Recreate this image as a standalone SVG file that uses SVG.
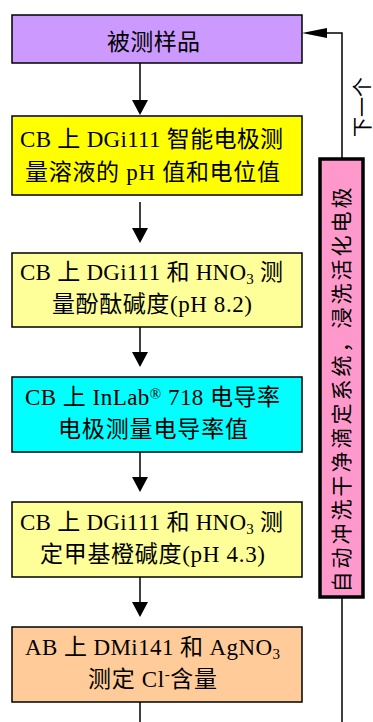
<svg xmlns="http://www.w3.org/2000/svg" width="373" height="722" viewBox="0 0 373 722">
<style>
.box{stroke:#000;stroke-width:1.5}
.t{font-family:"Liberation Serif","Noto Sans CJK SC",serif;font-size:23px;fill:#000}
.c{text-anchor:middle}
.ln{stroke:#000;stroke-width:1.5;fill:none}
.sub{font-size:15px}
</style>
<rect width="373" height="722" fill="#fff"/>
<g id="connectors">
<line class="ln" x1="140" y1="63" x2="140" y2="102"/>
<polygon points="132,100 148,100 140,115"/>
<line class="ln" x1="140" y1="202" x2="140" y2="230"/>
<polygon points="132,228 148,228 140,243"/>
<line class="ln" x1="140" y1="327" x2="140" y2="354"/>
<polygon points="132,352 148,352 140,367"/>
<line class="ln" x1="140" y1="452" x2="140" y2="479"/>
<polygon points="132,477 148,477 140,492"/>
<line class="ln" x1="140" y1="577" x2="140" y2="604"/>
<polygon points="132,602 148,602 140,617"/>
<line class="ln" x1="140" y1="702" x2="140" y2="722"/>
<polyline class="ln" points="342,722 342,598"/>
<polyline class="ln" points="342,158 342,33 322,33"/>
<polygon points="302,33 327,28 327,38"/>
</g>
<g id="n1">
<rect class="box" x="12" y="15" width="290" height="48" fill="#CC99FF"/>
<text class="t" x="107" y="50" textLength="93" lengthAdjust="spacing">被测样品</text>
</g>
<g id="n2">
<rect class="box" x="12" y="116" width="290" height="79" fill="#FFFF00"/>
<text class="t" x="20" y="147" textLength="263" lengthAdjust="spacing">CB 上 DGi111 智能电极测</text>
<text class="t" x="25" y="180" textLength="255" lengthAdjust="spacing">量溶液的 pH 值和电位值</text>
</g>
<g id="n3">
<rect class="box" x="12" y="253" width="290" height="74" fill="#FFFF99"/>
<text class="t" x="20" y="280" textLength="263" lengthAdjust="spacing">CB 上 DGi111 和 HNO<tspan class="sub" dy="4">3</tspan><tspan dy="-4"> 测</tspan></text>
<text class="t" x="52" y="312" textLength="200" lengthAdjust="spacing">量酚酞碱度(pH 8.2)</text>
</g>
<g id="n4">
<rect class="box" x="12" y="377" width="290" height="75" fill="#00FFFF"/>
<text class="t" x="25" y="405" textLength="255" lengthAdjust="spacing">CB 上 InLab<tspan class="sub" dy="-6">®</tspan><tspan dy="6"> 718 电导率</tspan></text>
<text class="t" x="58" y="437" textLength="190" lengthAdjust="spacing">电极测量电导率值</text>
</g>
<g id="n5">
<rect class="box" x="12" y="502" width="290" height="75" fill="#FFFF99"/>
<text class="t" x="20" y="530" textLength="263" lengthAdjust="spacing">CB 上 DGi111 和 HNO<tspan class="sub" dy="4">3</tspan><tspan dy="-4"> 测</tspan></text>
<text class="t" x="40" y="562" textLength="225" lengthAdjust="spacing">定甲基橙碱度(pH 4.3)</text>
</g>
<g id="n6">
<rect class="box" x="12" y="627" width="290" height="75" fill="#FFCC99"/>
<text class="t" x="25" y="655" textLength="255" lengthAdjust="spacing">AB 上 DMi141 和 AgNO<tspan class="sub" dy="4">3</tspan></text>
<text class="t" x="88" y="687" textLength="129" lengthAdjust="spacing">测定 Cl<tspan class="sub" dy="-8">-</tspan><tspan dy="8">含量</tspan></text>
</g>
<g id="n7">
<rect x="320" y="159" width="43" height="438" fill="#FF99CC" stroke="#000" stroke-width="3.5"/>
<text class="t c" transform="translate(349,390) rotate(-90)" x="0" y="0" font-size="21" textLength="405" lengthAdjust="spacing" style="font-size:21px">自动冲洗干净滴定系统，浸洗活化电极</text>
</g>
<g id="n8">
<text class="t c" transform="translate(370,107) rotate(-90)" x="0" y="0" style="font-size:20px">下一个</text>
</g>
</svg>
